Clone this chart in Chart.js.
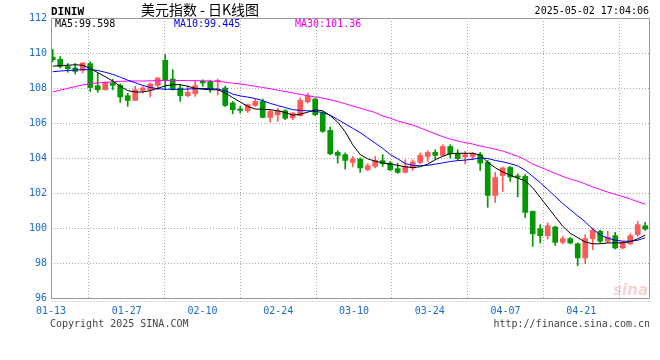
<!DOCTYPE html>
<html><head><meta charset="utf-8">
<script src="https://cdn.jsdelivr.net/npm/chart.js@4.4.1/dist/chart.umd.min.js"></script>
<style>html,body{margin:0;padding:0;background:#fff;}#wrap{width:660px;height:360px;}</style>
</head><body><div id="wrap"><canvas id="c" width="660" height="360"></canvas></div>
<script>
const TITLE = '美元指数 - 日K线图';
const SYMBOL = 'DINIW';
const STAMP = '2025-05-02 17:04:06';
const tickLabels = ['01-13','01-27','02-10','02-24','03-10','03-24','04-07','04-21'];
const yTicks = [96,98,100,102,104,106,108,110,112];

const opens = [109.75,109.64,109.23,109.14,109.0,109.39,108.13,107.9,108.29,108.15,
107.56,107.29,107.86,107.9,108.15,109.58,108.51,108.0,107.56,107.67,
108.38,108.38,108.38,108.0,107.14,106.8,106.7,107.0,107.23,106.32,
106.47,106.7,106.29,106.42,107.2,107.37,106.57,105.58,104.32,104.19,
103.75,103.94,103.33,103.52,103.85,103.71,103.39,103.18,103.43,103.75,
104.09,104.32,104.15,104.66,104.25,104.06,104.09,104.19,103.75,101.86,
103.0,103.46,102.98,102.95,100.95,99.96,99.56,100.06,99.18,99.39,
99.1,98.29,99.39,99.81,99.24,99.56,98.86,99.1,99.62,100.13];
const highs = [110.2,109.8,109.4,109.4,109.46,109.5,108.86,108.35,108.5,108.23,
107.7,108.1,108.09,108.29,108.6,109.9,109.05,108.19,108.13,108.38,
108.47,108.45,108.51,108.1,107.23,106.95,107.09,107.37,107.37,106.76,
106.85,106.76,106.6,107.43,107.71,107.43,106.66,105.77,104.42,104.29,
104.09,104.0,103.68,104.09,104.19,103.8,103.7,103.9,103.9,104.29,
104.42,104.47,104.76,104.76,104.47,104.38,104.32,104.32,103.86,103.18,
103.49,103.52,103.1,103.05,100.97,100.19,100.29,100.1,99.52,99.45,
99.14,99.62,100.0,99.87,99.81,99.75,99.24,99.67,100.38,100.32];
const lows = [109.5,109.14,108.9,108.8,108.86,107.8,107.75,107.88,107.9,107.18,
106.95,107.29,107.71,107.49,107.9,107.9,107.88,107.23,107.49,107.52,
108.1,107.75,107.6,106.93,106.53,106.57,106.6,106.95,106.29,106.05,
106.09,106.19,106.19,106.38,107.14,106.42,105.46,104.19,103.71,103.37,
103.49,103.18,103.27,103.43,103.52,103.27,103.12,103.14,103.29,103.67,
103.81,103.94,104.09,104.0,103.86,103.67,103.9,103.29,101.18,101.46,
102.09,102.66,101.77,100.6,98.95,99.14,99.37,99.0,99.09,99.1,
97.85,97.96,98.76,99.14,99.14,98.8,98.8,99.05,99.52,99.86];
const closes = [109.62,109.23,109.1,108.95,109.43,108.03,107.9,108.29,108.15,107.49,
107.29,107.9,108.0,108.23,108.57,108.43,107.94,107.56,107.75,108.13,
108.29,107.94,108.44,107.0,106.76,106.72,107.05,107.23,106.32,106.66,
106.7,106.27,106.57,107.29,107.56,106.47,105.52,104.24,104.15,103.86,
103.94,103.43,103.56,103.86,103.67,103.33,103.18,103.52,103.77,104.15,
104.32,104.15,104.66,104.23,103.96,104.19,104.25,103.71,101.86,102.89,
103.43,102.91,102.9,100.89,99.67,99.56,100.13,99.18,99.39,99.14,
98.29,99.39,99.87,99.24,99.49,98.86,99.18,99.56,100.19,99.94];

const ma5 = [109.25,109.28,109.3,109.33,109.3,109.12,108.88,108.65,108.4,108.1,
107.85,107.77,107.77,107.85,107.98,108.12,108.19,108.19,108.1,107.98,
107.93,107.9,107.9,107.72,107.45,107.2,106.95,106.8,106.78,106.76,
106.7,106.6,106.45,106.5,106.62,106.75,106.7,106.42,106.05,105.5,
104.75,104.2,103.95,103.82,103.72,103.65,103.58,103.5,103.45,103.5,
103.65,103.9,104.1,104.25,104.27,104.27,104.27,104.18,103.75,103.45,
103.2,103.02,102.85,102.7,102.3,101.75,101.2,100.65,100.1,99.7,
99.45,99.2,99.1,99.1,99.15,99.15,99.15,99.22,99.38,99.598];
const ma10 = [108.93,108.97,109.0,109.03,109.05,109.05,109.0,108.9,108.78,108.62,
108.45,108.3,108.15,108.03,107.96,107.93,107.92,107.92,107.94,107.96,
107.97,107.96,107.94,107.85,107.65,107.55,107.48,107.4,107.28,107.12,
107.0,106.88,106.76,106.72,106.7,106.66,106.6,106.45,106.2,105.95,
105.7,105.45,105.15,104.85,104.55,104.2,103.95,103.68,103.58,103.56,
103.58,103.65,103.72,103.8,103.85,103.88,103.93,104.0,103.97,103.86,
103.78,103.68,103.55,103.3,102.95,102.6,102.2,101.8,101.4,101.05,
100.7,100.35,99.95,99.6,99.42,99.3,99.25,99.24,99.3,99.445];
const ma30 = [107.77,107.88,107.98,108.08,108.17,108.25,108.29,108.32,108.36,108.38,
108.4,108.4,108.4,108.41,108.42,108.43,108.43,108.43,108.42,108.42,
108.41,108.4,108.38,108.33,108.28,108.23,108.17,108.1,108.03,107.96,
107.88,107.8,107.72,107.64,107.56,107.49,107.42,107.33,107.22,107.1,
106.97,106.85,106.72,106.6,106.4,106.28,106.12,106.0,105.88,105.72,
105.55,105.38,105.22,105.08,104.97,104.88,104.8,104.68,104.6,104.5,
104.4,104.25,104.1,103.9,103.65,103.48,103.3,103.12,102.95,102.8,
102.68,102.52,102.34,102.2,102.05,101.92,101.8,101.66,101.5,101.36];

const RED = '#ff5a5a', GREEN = '#009a00', BLUE_TXT = '#1a6acb';
const X_MIN = -0.23, X_MAX = 79.64, TICK_STEP = 10.1;
const N = closes.length;
const candleColors = opens.map((o, i) => closes[i] >= o ? RED : GREEN);
const pts = arr => arr.map((v, i) => ({x: i, y: v}));
const MONO = '"DejaVu Sans Mono", monospace';

const frame = {
  id: 'frame',
  afterDraw(chart) {
    const {ctx, chartArea: a} = chart;
    ctx.save();
    ctx.setLineDash([]);
    ctx.strokeStyle = '#999'; ctx.lineWidth = 1;
    const L = Math.round(a.left) + 0.5, T = Math.round(a.top) + 0.5;
    const R = Math.round(a.right) - 0.5, B = Math.round(a.bottom) + 0.5;
    ctx.beginPath(); ctx.moveTo(L, T); ctx.lineTo(R, T); ctx.lineTo(R, B); ctx.lineTo(L, B); ctx.closePath(); ctx.stroke();
    ctx.strokeStyle = '#aaa'; ctx.setLineDash([1, 2]);
    ctx.beginPath(); ctx.moveTo(L, B + 3); ctx.lineTo(R, B + 3); ctx.stroke();
    ctx.setLineDash([]);
    ctx.textBaseline = 'middle';
    ctx.fillStyle = '#000'; ctx.textAlign = 'left';
    ctx.font = 'bold 11px ' + MONO; ctx.fillText(SYMBOL, 51, 12);
    ctx.font = '14px "Noto Sans CJK SC"'; ctx.textAlign = 'center'; ctx.fillText(TITLE, 200, 10);
    ctx.font = '10px ' + MONO; ctx.textAlign = 'right'; ctx.fillText(STAMP, 649, 11);
    ctx.textAlign = 'left';
    ctx.fillStyle = '#000'; ctx.fillText('MA5:' + ma5[N-1].toPrecision(5), 55, 24);
    ctx.fillStyle = '#0000ee'; ctx.fillText('MA10:' + ma10[N-1].toPrecision(5), 174, 24);
    ctx.fillStyle = '#ee00ee'; ctx.fillText('MA30:' + ma30[N-1].toPrecision(5), 295, 24);
    ctx.fillStyle = '#444';
    ctx.fillText('Copyright 2025 SINA.COM', 50, 324);
    ctx.textAlign = 'right'; ctx.fillText('http://finance.sina.com.cn', 650, 324);
    ctx.fillStyle = 'rgba(225,110,110,0.3)'; ctx.font = 'italic bold 15px "DejaVu Sans"';
    ctx.textBaseline = 'alphabetic'; ctx.fillText('sina', 648, 295);
    ctx.restore();
  }
};

new Chart(document.getElementById('c'), {
  type: 'bar',
  data: { datasets: [
    {type: 'line', label: 'MA5', data: pts(ma5), borderColor: '#000', borderWidth: 1, pointRadius: 0, tension: 0, order: 0},
    {type: 'line', label: 'MA10', data: pts(ma10), borderColor: '#0000ff', borderWidth: 1, pointRadius: 0, tension: 0, order: 0},
    {type: 'line', label: 'MA30', data: pts(ma30), borderColor: '#ff00ff', borderWidth: 1, pointRadius: 0, tension: 0, order: 0},
    {type: 'bar', label: 'body', data: opens.map((o, i) => ({x: i, y: [o, closes[i]]})), backgroundColor: candleColors, barThickness: 5, grouped: false, minBarLength: 1, order: 1},
    {type: 'bar', label: 'wick', data: lows.map((l, i) => ({x: i, y: [l, highs[i]]})), backgroundColor: candleColors, barThickness: 1, grouped: false, order: 2}
  ]},
  options: {
    responsive: false, animation: false, devicePixelRatio: 1,
    layout: {padding: {left: 0, right: 10, top: 18, bottom: 0}},
    plugins: {legend: {display: false}, tooltip: {enabled: false}},
    scales: {
      x: {
        type: 'linear', min: X_MIN, max: X_MAX, offset: false,
        afterBuildTicks: s => { s.ticks = tickLabels.map((t, k) => ({value: X_MIN + k * TICK_STEP})); },
        afterFit: s => { s.height = 62; },
        ticks: {autoSkip: false, maxRotation: 0, minRotation: 0, color: BLUE_TXT, font: {family: MONO, size: 10}, padding: 7,
                callback: (v, i) => tickLabels[i]},
        grid: {color: '#aaa', lineWidth: 1, drawTicks: false},
        border: {display: false, dash: [1, 2]}
      },
      y: {
        min: 96, max: 112,
        afterBuildTicks: s => { s.ticks = yTicks.map(v => ({value: v})); },
        afterFit: s => { s.width = 51; },
        ticks: {color: BLUE_TXT, font: {family: MONO, size: 10}, padding: 4},
        grid: {color: '#aaa', lineWidth: 1, drawTicks: false},
        border: {display: false, dash: [1, 2]}
      }
    }
  },
  plugins: [frame]
});
</script>
</body></html>
